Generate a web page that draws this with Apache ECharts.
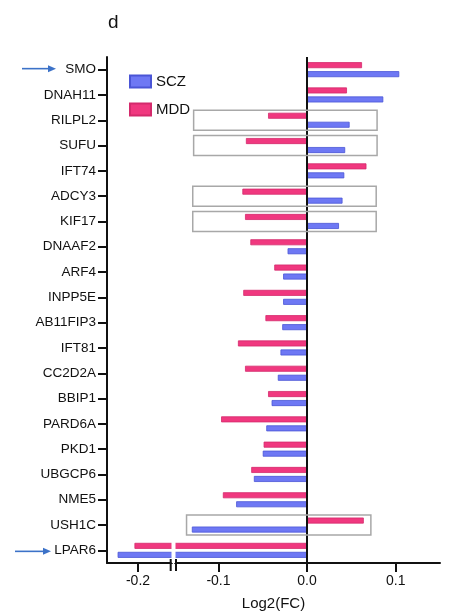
<!DOCTYPE html>
<html>
<head>
<meta charset="utf-8">
<script src="https://cdn.jsdelivr.net/npm/echarts@6/dist/echarts.min.js"></script>
<style>html,body{margin:0;padding:0;background:#fff;}#c{width:451px;height:616px;}</style>
</head>
<body>
<div id="c"></div>
<script>
var genes = ['SMO','DNAH11','RILPL2','SUFU','IFT74','ADCY3','KIF17','DNAAF2','ARF4','INPP5E','AB11FIP3','IFT81','CC2D2A','BBIP1','PARD6A','PKD1','UBGCP6','NME5','USH1C','LPAR6'];
var mdd = [0.062, 0.045, -0.044, -0.069, 0.067, -0.073, -0.070, -0.064, -0.037, -0.072, -0.047, -0.078, -0.070, -0.044, -0.097, -0.049, -0.063, -0.095, 0.064, -0.204];
var scz = [0.104, 0.086, 0.048, 0.043, 0.042, 0.040, 0.036, -0.022, -0.027, -0.027, -0.028, -0.030, -0.033, -0.040, -0.046, -0.050, -0.060, -0.080, -0.130, -0.223];
var xTicks = [-0.2, -0.1, 0, 0.1];
var boxGenes = ['RILPL2','SUFU','ADCY3','KIF17','USH1C'];
var boxStart = [-0.128, -0.128, -0.129, -0.129, -0.136];
var boxEnd = [0.079, 0.079, 0.078, 0.078, 0.072];
var breakStart = -0.162, breakEnd = -0.149;

var boxData = boxGenes.map(function (g, i) { return [genes.indexOf(g), boxStart[i], boxEnd[i]]; });

var chart = echarts.init(document.getElementById('c'), null, {renderer: 'canvas'});
var font = '"Liberation Sans", Arial, Helvetica, sans-serif';
chart.setOption({
  animation: false,
  textStyle: {fontFamily: font},
  grid: {left: 107, right: 11, top: 57, bottom: 51, containLabel: false},
  legend: {
    data: ['SCZ', 'MDD'], orient: 'vertical', left: 124, top: 69, z: 300,
    itemWidth: 21, itemHeight: 12, itemGap: 13, icon: 'rect',
    textStyle: {fontSize: 15, color: '#111', fontFamily: font}
  },
  xAxis: {
    type: 'value', min: -0.235, max: 0.15,
    breaks: [{start: breakStart, end: breakEnd, gap: '1%'}],
    breakArea: {show: true, expandOnClick: false, zigzagAmplitude: 0, zigzagZ: 100,
      itemStyle: {color: '#fff', opacity: 1, borderColor: 'rgba(0,0,0,0)', borderWidth: 0}},
    splitLine: {show: false},
    axisLine: {show: true, onZero: false, lineStyle: {color: '#111', width: 2}},
    axisTick: {show: true, length: 9, lineStyle: {color: '#111', width: 2}, customValues: xTicks},
    axisLabel: {fontSize: 14, color: '#111', margin: 11, fontFamily: font, customValues: xTicks,
      formatter: function (v) { return v.toFixed(1); }},
    name: 'Log2(FC)', nameLocation: 'middle', nameGap: 33,
    nameTextStyle: {fontSize: 15, color: '#111', fontFamily: font}
  },
  yAxis: {
    type: 'category', data: genes, inverse: true,
    axisLine: {show: true, onZero: false, lineStyle: {color: '#111', width: 2}},
    axisTick: {show: true, alignWithLabel: true, length: 9, lineStyle: {color: '#111', width: 2}},
    axisLabel: {fontSize: 13.5, color: '#111', margin: 11, fontFamily: font},
    splitLine: {show: false}
  },
  series: [
    {name: 'MDD', type: 'bar', data: mdd, barWidth: 6, barGap: '50%',
      itemStyle: {color: '#F0387F', borderColor: '#D42A6C', borderWidth: 0.8}},
    {name: 'SCZ', type: 'bar', data: scz, barWidth: 6, barGap: '50%',
      itemStyle: {color: '#6E78F4', borderColor: '#4A55D6', borderWidth: 0.8},
      markLine: {silent: true, symbol: 'none', label: {show: false},
        lineStyle: {color: '#111', width: 2, type: 'solid'}, data: [{xAxis: 0}]}},
    {name: 'box', type: 'custom', data: boxData, z: 5, silent: true,
      encode: {x: [1, 2], y: 0},
      renderItem: function (params, api) {
        var p1 = api.coord([api.value(1), api.value(0)]);
        var p2 = api.coord([api.value(2), api.value(0)]);
        var h = api.size([0, 1])[1] * 0.79;
        return {type: 'rect', shape: {x: p1[0], y: p1[1] - h / 2, width: p2[0] - p1[0], height: h},
          style: {fill: 'none', stroke: '#A8A8A8', lineWidth: 1.5}};
      }}
  ]
});

// decorations: panel letter, arrows, axis-break marks
var bx1 = chart.convertToPixel({xAxisIndex: 0}, breakStart);
var bx2 = chart.convertToPixel({xAxisIndex: 0}, breakEnd);
var axisY = 616 - 51;
function arrow(x1, x2, y) {
  return [
    {type: 'line', shape: {x1: x1, y1: y, x2: x2 - 6, y2: y}, style: {stroke: '#3C72C8', lineWidth: 1.6}},
    {type: 'polygon', shape: {points: [[x2 - 8, y - 3.5], [x2, y], [x2 - 8, y + 3.5]]}, style: {fill: '#3C72C8'}}
  ];
}
var yS = chart.convertToPixel({yAxisIndex: 0}, 'SMO');
var yL = chart.convertToPixel({yAxisIndex: 0}, 'LPAR6');
chart.setOption({
  graphic: [
    {type: 'text', left: 108, top: 13, style: {text: 'd', fontSize: 19, fill: '#111', fontFamily: font}},
    {type: 'line', shape: {x1: bx1 - 1, y1: axisY - 6, x2: bx1 - 1, y2: axisY + 6}, style: {stroke: '#111', lineWidth: 2}, z: 200},
    {type: 'line', shape: {x1: bx2 + 1, y1: axisY - 6, x2: bx2 + 1, y2: axisY + 6}, style: {stroke: '#111', lineWidth: 2}, z: 200}
  ].concat(arrow(22, 56, yS - 1)).concat(arrow(15, 51, yL + 1))
});
</script>
</body>
</html>
